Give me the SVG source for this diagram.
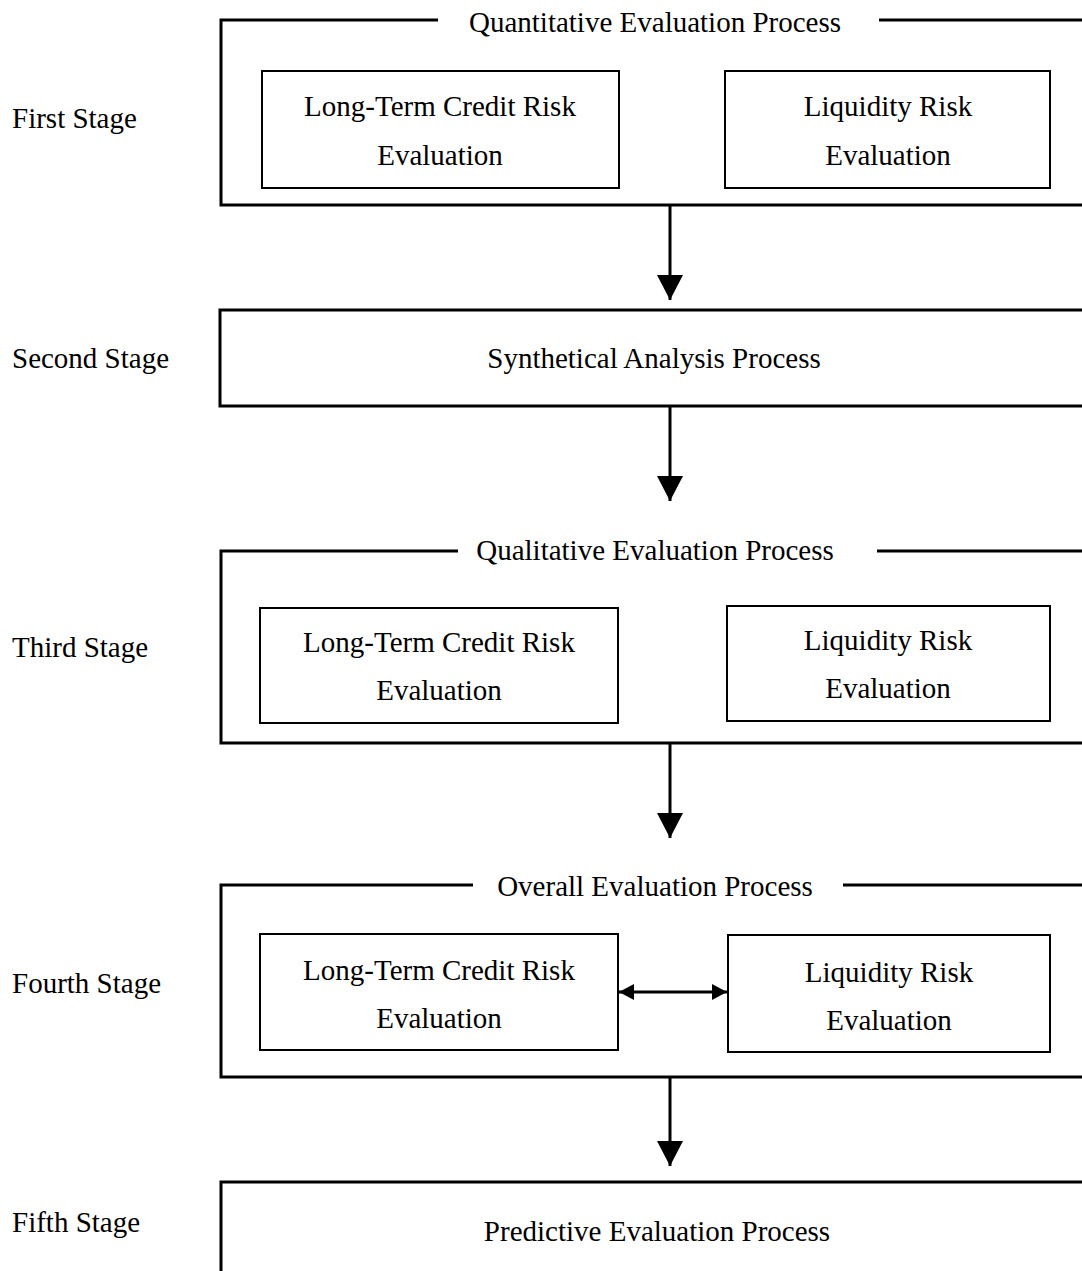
<svg xmlns="http://www.w3.org/2000/svg" width="1082" height="1271" viewBox="0 0 1082 1271">
<style>
text{font-family:"Liberation Serif","Times New Roman",serif;font-size:29px;fill:#000}
.c{text-anchor:middle}
.outer{fill:none;stroke:#000;stroke-width:3}
.inner{fill:#fff;stroke:#000;stroke-width:2}
.conn{stroke:#000;stroke-width:3;fill:none}
</style>
<defs>
<marker id="ah" markerUnits="userSpaceOnUse" markerWidth="26" markerHeight="26" refX="25" refY="13" orient="auto"><path d="M0,0 L25,13 L0,26 Z" fill="#000"/></marker>
<marker id="sh" markerUnits="userSpaceOnUse" markerWidth="16" markerHeight="16" refX="15" refY="8" orient="auto-start-reverse"><path d="M0,0 L15,8 L0,16 Z" fill="#000"/></marker>
</defs>
<g id="labels">
<text x="12" y="128">First Stage</text>
<text x="12" y="368">Second Stage</text>
<text x="12" y="657">Third Stage</text>
<text x="12" y="993">Fourth Stage</text>
<text x="12" y="1232">Fifth Stage</text>
</g>
<g id="stage1">
<path class="outer" d="M438,20 H221 V205 H1090 M879,20 H1090"/>
<text class="c" x="655" y="32">Quantitative Evaluation Process</text>
</g>
<g id="s1-credit">
<rect class="inner" x="262" y="71" width="357" height="117"/>
<text class="c" x="440" y="116">Long-Term Credit Risk</text>
<text class="c" x="440" y="165">Evaluation</text>
</g>
<g id="s1-liquidity">
<rect class="inner" x="725" y="71" width="325" height="117"/>
<text class="c" x="888" y="116">Liquidity Risk</text>
<text class="c" x="888" y="165">Evaluation</text>
</g>
<g id="stage2">
<path class="outer" d="M1090,310 H220 V406 H1090"/>
<text class="c" x="654" y="368">Synthetical Analysis Process</text>
</g>
<g id="stage3">
<path class="outer" d="M458,551 H221 V743 H1090 M877,551 H1090"/>
<text class="c" x="655" y="560">Qualitative Evaluation Process</text>
</g>
<g id="s3-credit">
<rect class="inner" x="260" y="608" width="358" height="115"/>
<text class="c" x="439" y="652">Long-Term Credit Risk</text>
<text class="c" x="439" y="700">Evaluation</text>
</g>
<g id="s3-liquidity">
<rect class="inner" x="727" y="606" width="323" height="115"/>
<text class="c" x="888" y="650">Liquidity Risk</text>
<text class="c" x="888" y="698">Evaluation</text>
</g>
<g id="stage4">
<path class="outer" d="M473,885 H221 V1077 H1090 M843,885 H1090"/>
<text class="c" x="655" y="896">Overall Evaluation Process</text>
</g>
<g id="s4-credit">
<rect class="inner" x="260" y="934" width="358" height="116"/>
<text class="c" x="439" y="980">Long-Term Credit Risk</text>
<text class="c" x="439" y="1028">Evaluation</text>
</g>
<g id="s4-liquidity">
<rect class="inner" x="728" y="935" width="322" height="117"/>
<text class="c" x="889" y="982">Liquidity Risk</text>
<text class="c" x="889" y="1030">Evaluation</text>
</g>
<g id="stage5">
<path class="outer" d="M1090,1182 H221 V1280"/>
<text class="c" x="657" y="1241">Predictive Evaluation Process</text>
</g>
<g id="connectors">
<line class="conn" x1="670" y1="205" x2="670" y2="300" marker-end="url(#ah)"/>
<line class="conn" x1="670" y1="406" x2="670" y2="501" marker-end="url(#ah)"/>
<line class="conn" x1="670" y1="743" x2="670" y2="838" marker-end="url(#ah)"/>
<line class="conn" x1="670" y1="1077" x2="670" y2="1166" marker-end="url(#ah)"/>
<line class="conn" x1="619" y1="992" x2="727" y2="992" marker-start="url(#sh)" marker-end="url(#sh)"/>
</g>
</svg>
